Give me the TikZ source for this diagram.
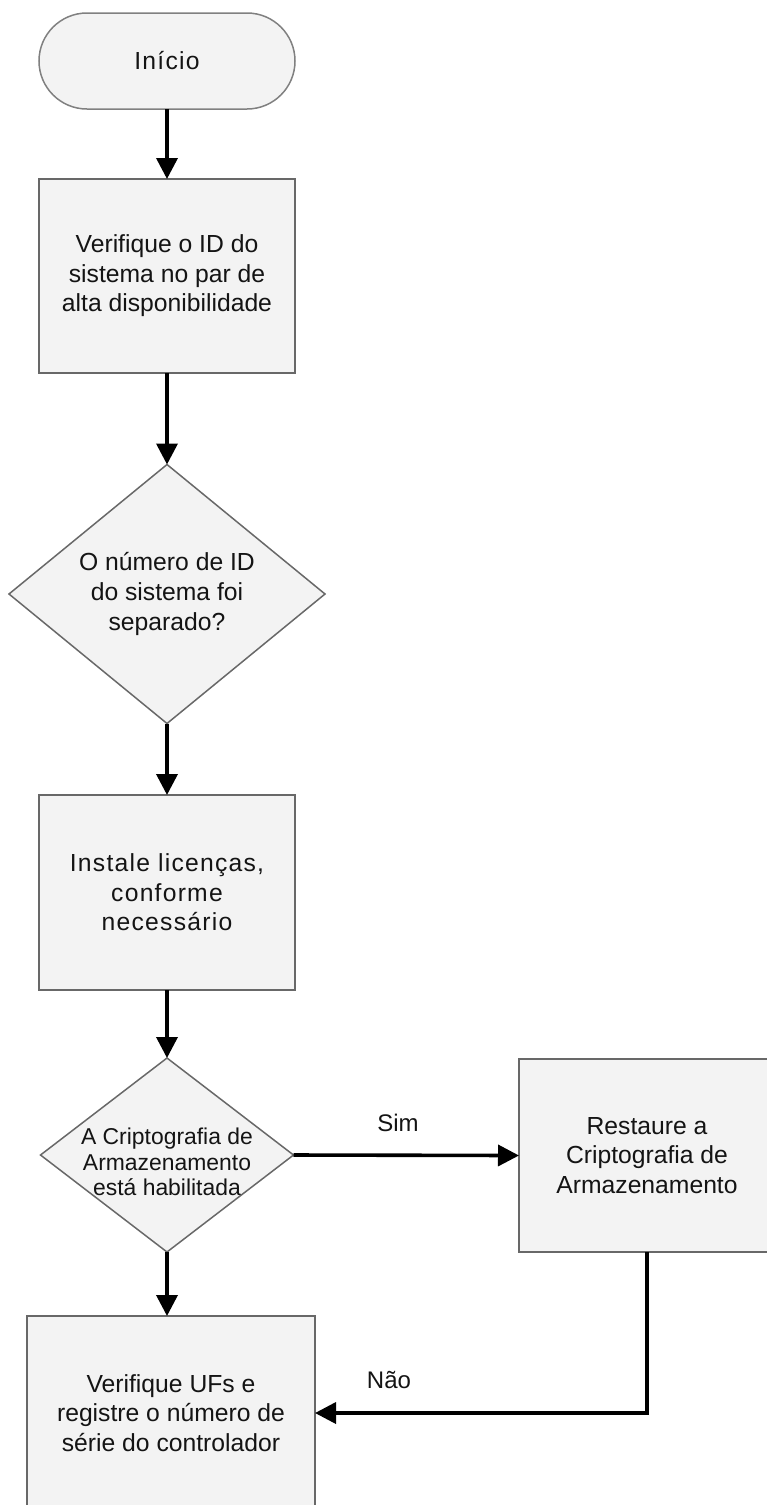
\documentclass[tikz,border=0pt]{standalone}
\usepackage{fontspec}
\setmainfont{Liberation Sans}
\newfontfamily\spacedfont[LetterSpace=5]{Liberation Sans}
\usetikzlibrary{shapes.geometric,shapes.misc,arrows.meta}
\definecolor{boxfill}{RGB}{243,243,243}
\definecolor{boxline}{RGB}{104,104,104}
\definecolor{termline}{RGB}{128,128,128}
\definecolor{txt}{RGB}{20,20,20}
\tikzset{
  shapebase/.style={fill=boxfill, draw=boxline, line width=1.5pt, inner sep=0pt, outer sep=0pt, text=txt, align=center,
    font=\fontsize{24.7}{29.6}\selectfont},
  termbox/.style={shapebase, draw=termline, rounded rectangle, minimum width=256pt, minimum height=96pt},
  procbox/.style={shapebase, rectangle, minimum width=256pt, minimum height=195pt},
  decbox/.style={shapebase, diamond},
  flow/.style={line width=3.6pt, -{Triangle[width=21pt,length=21pt]}},
  flowline/.style={line width=3.6pt},
  lbl/.style={text=txt, font=\fontsize{24}{28}\selectfont, inner sep=0pt}
}
\begin{document}
\begin{tikzpicture}[x=1pt,y=-1pt]
\useasboundingbox (0,0) rectangle (767,1505);
\node[termbox] (start) at (167,61) {\spacedfont Início};
\node[procbox, minimum height=194pt] (box1) at (167,276) {Verifique o ID do\\sistema no par de\\alta disponibilidade};
\node[decbox, minimum width=316pt, minimum height=259pt,
      label={[text=txt, align=center, font=\fontsize{24.7}{29.6}\selectfont]center:O número de ID\\do sistema foi\\separado?}] (dia1) at (167,594) {};
\node[procbox] (box2) at (167,892.5) {\spacedfont Instale licenças,\\\spacedfont conforme\\\spacedfont necessário};
\node[decbox, minimum width=253pt, minimum height=194pt,
      label={[text=txt, align=center, font=\fontsize{22.9}{25.6}\selectfont, yshift=-7pt]center:A Criptografia de\\Armazenamento\\está habilitada}] (dia2) at (167,1155) {};
\node[procbox, minimum height=193pt] (box3) at (647,1155.5) {Restaure a\\Criptografia de\\Armazenamento};
\node[procbox, minimum width=288pt, minimum height=194pt] (box4) at (171,1413) {Verifique UFs e\\registre o número de\\série do controlador};

\draw[flow] (start.south) -- (box1.north);
\draw[flow] (box1.south) -- (dia1.north);
\draw[flow] (dia1.south) -- (box2.north);
\draw[flow] (box2.south) -- (dia2.north);
\draw[flow] (dia2.south) -- (dia2.south |- box4.north);
\draw[flow] (dia2.east) -- (box3.west);
\draw[flow] (box3.south) |- (box4.east);

\node[lbl] (sim) at (398,1123) {Sim};
\node[lbl] (nao) at (389,1380) {Não};
\end{tikzpicture}
\end{document}
